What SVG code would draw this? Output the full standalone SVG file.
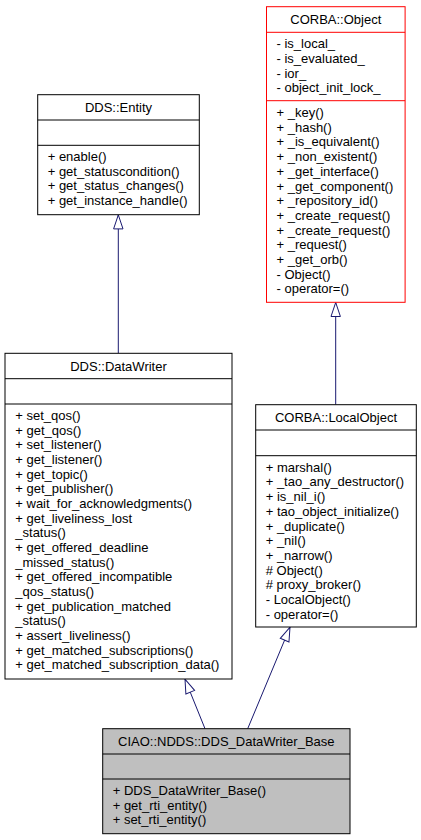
<svg xmlns="http://www.w3.org/2000/svg" width="421" height="840" viewBox="0 0 421 840">
<style>
.box{fill:#ffffff;stroke:#000000;stroke-width:1}
.sep{stroke:#000000;stroke-width:1}
.red{stroke:#ff0000}
.gray{fill:#bfbfbf}
text{font-family:"Liberation Sans",Arial,Helvetica,sans-serif;font-size:13px;fill:#000000}
.t{text-anchor:middle}
.edge{fill:none;stroke:#191970;stroke-width:1;marker-end:url(#inh)}
</style>
<defs>
<marker id="inh" markerUnits="userSpaceOnUse" markerWidth="16" markerHeight="12" viewBox="0 0 16 12" refX="15" refY="6" orient="auto">
<path d="M1,1.3 L15,6 L1,10.7 Z" fill="#ffffff" stroke="#191970" stroke-width="1"/>
</marker>
</defs>
<rect width="421" height="840" fill="#ffffff"/>
<g id="connectors">
<path class="edge" d="M118.3,353.3 L118.3,214.9"/>
<path class="edge" d="M335.7,404.7 L335.7,302.5"/>
<path class="edge" d="M205,728.7 L185,679.2"/>
<path class="edge" d="M247.7,728.7 L290,627.2"/>
</g>
<g id="node_entity">
<rect class="box" x="37.7" y="94.7" width="161.6" height="120"/>
<line class="sep" x1="37.7" y1="120" x2="199.3" y2="120"/>
<line class="sep" x1="37.7" y1="145.3" x2="199.3" y2="145.3"/>
<text class="t" x="118.5" y="112">DDS::Entity</text>
<text x="47.7"><tspan x="47.7" y="161">+ enable()</tspan><tspan x="47.7" y="175.7">+ get_statuscondition()</tspan><tspan x="47.7" y="190.4">+ get_status_changes()</tspan><tspan x="47.7" y="205.1">+ get_instance_handle()</tspan></text>
</g>
<g id="node_corba_object">
<rect class="box red" x="266.5" y="6.7" width="138.6" height="295.6"/>
<line class="sep red" x1="266.5" y1="32.3" x2="405.1" y2="32.3"/>
<line class="sep red" x1="266.5" y1="100.7" x2="405.1" y2="100.7"/>
<text class="t" x="335.8" y="24">CORBA::Object</text>
<text><tspan x="276.5" y="48.3">- is_local_</tspan><tspan x="276.5" y="63">- is_evaluated_</tspan><tspan x="276.5" y="77.6">- ior_</tspan><tspan x="276.5" y="92.3">- object_init_lock_</tspan></text>
<text><tspan x="276.5" y="117">+ _key()</tspan><tspan x="276.5" y="131.7">+ _hash()</tspan><tspan x="276.5" y="146.4">+ _is_equivalent()</tspan><tspan x="276.5" y="161.1">+ _non_existent()</tspan><tspan x="276.5" y="175.8">+ _get_interface()</tspan><tspan x="276.5" y="190.5">+ _get_component()</tspan><tspan x="276.5" y="205.2">+ _repository_id()</tspan><tspan x="276.5" y="219.9">+ _create_request()</tspan><tspan x="276.5" y="234.6">+ _create_request()</tspan><tspan x="276.5" y="249.3">+ _request()</tspan><tspan x="276.5" y="264">+ _get_orb()</tspan><tspan x="276.5" y="278.7">- Object()</tspan><tspan x="276.5" y="293.4">- operator=()</tspan></text>
</g>
<g id="node_datawriter">
<rect class="box" x="5" y="353.3" width="227" height="325.7"/>
<line class="sep" x1="5" y1="378.7" x2="232" y2="378.7"/>
<line class="sep" x1="5" y1="404" x2="232" y2="404"/>
<text class="t" x="118.5" y="370.5">DDS::DataWriter</text>
<text><tspan x="15.3" y="420">+ set_qos()</tspan><tspan x="15.3" y="434.67">+ get_qos()</tspan><tspan x="15.3" y="449.34">+ set_listener()</tspan><tspan x="15.3" y="464">+ get_listener()</tspan><tspan x="15.3" y="478.7">+ get_topic()</tspan><tspan x="15.3" y="493.35">+ get_publisher()</tspan><tspan x="15.3" y="508">+ wait_for_acknowledgments()</tspan><tspan x="15.3" y="522.7">+ get_liveliness_lost</tspan><tspan x="15.3" y="537.4">_status()</tspan><tspan x="15.3" y="552">+ get_offered_deadline</tspan><tspan x="15.3" y="566.7">_missed_status()</tspan><tspan x="15.3" y="581.4">+ get_offered_incompatible</tspan><tspan x="15.3" y="596">_qos_status()</tspan><tspan x="15.3" y="610.7">+ get_publication_matched</tspan><tspan x="15.3" y="625.4">_status()</tspan><tspan x="15.3" y="640">+ assert_liveliness()</tspan><tspan x="15.3" y="654.7">+ get_matched_subscriptions()</tspan><tspan x="15.3" y="669.4">+ get_matched_subscription_data()</tspan></text>
</g>
<g id="node_localobject">
<rect class="box" x="255.7" y="404.7" width="160.6" height="222.3"/>
<line class="sep" x1="255.7" y1="430" x2="416.3" y2="430"/>
<line class="sep" x1="255.7" y1="455.7" x2="416.3" y2="455.7"/>
<text class="t" x="336" y="421.7">CORBA::LocalObject</text>
<text><tspan x="265.7" y="471.7">+ marshal()</tspan><tspan x="265.7" y="486.4">+ _tao_any_destructor()</tspan><tspan x="265.7" y="501.1">+ is_nil_i()</tspan><tspan x="265.7" y="515.8">+ tao_object_initialize()</tspan><tspan x="265.7" y="530.5">+ _duplicate()</tspan><tspan x="265.7" y="545.2">+ _nil()</tspan><tspan x="265.7" y="559.9">+ _narrow()</tspan><tspan x="265.7" y="574.6"># Object()</tspan><tspan x="265.7" y="589.3"># proxy_broker()</tspan><tspan x="265.7" y="604">- LocalObject()</tspan><tspan x="265.7" y="618.7">- operator=()</tspan></text>
</g>
<g id="node_dds_datawriter_base">
<rect class="box gray" x="102.7" y="728.7" width="247.3" height="105"/>
<line class="sep" x1="102.7" y1="754" x2="350" y2="754"/>
<line class="sep" x1="102.7" y1="779" x2="350" y2="779"/>
<text class="t" x="226.3" y="745.7">CIAO::NDDS::DDS_DataWriter_Base</text>
<text><tspan x="112.7" y="795">+ DDS_DataWriter_Base()</tspan><tspan x="112.7" y="809.7">+ get_rti_entity()</tspan><tspan x="112.7" y="824.4">+ set_rti_entity()</tspan></text>
</g>
</svg>
